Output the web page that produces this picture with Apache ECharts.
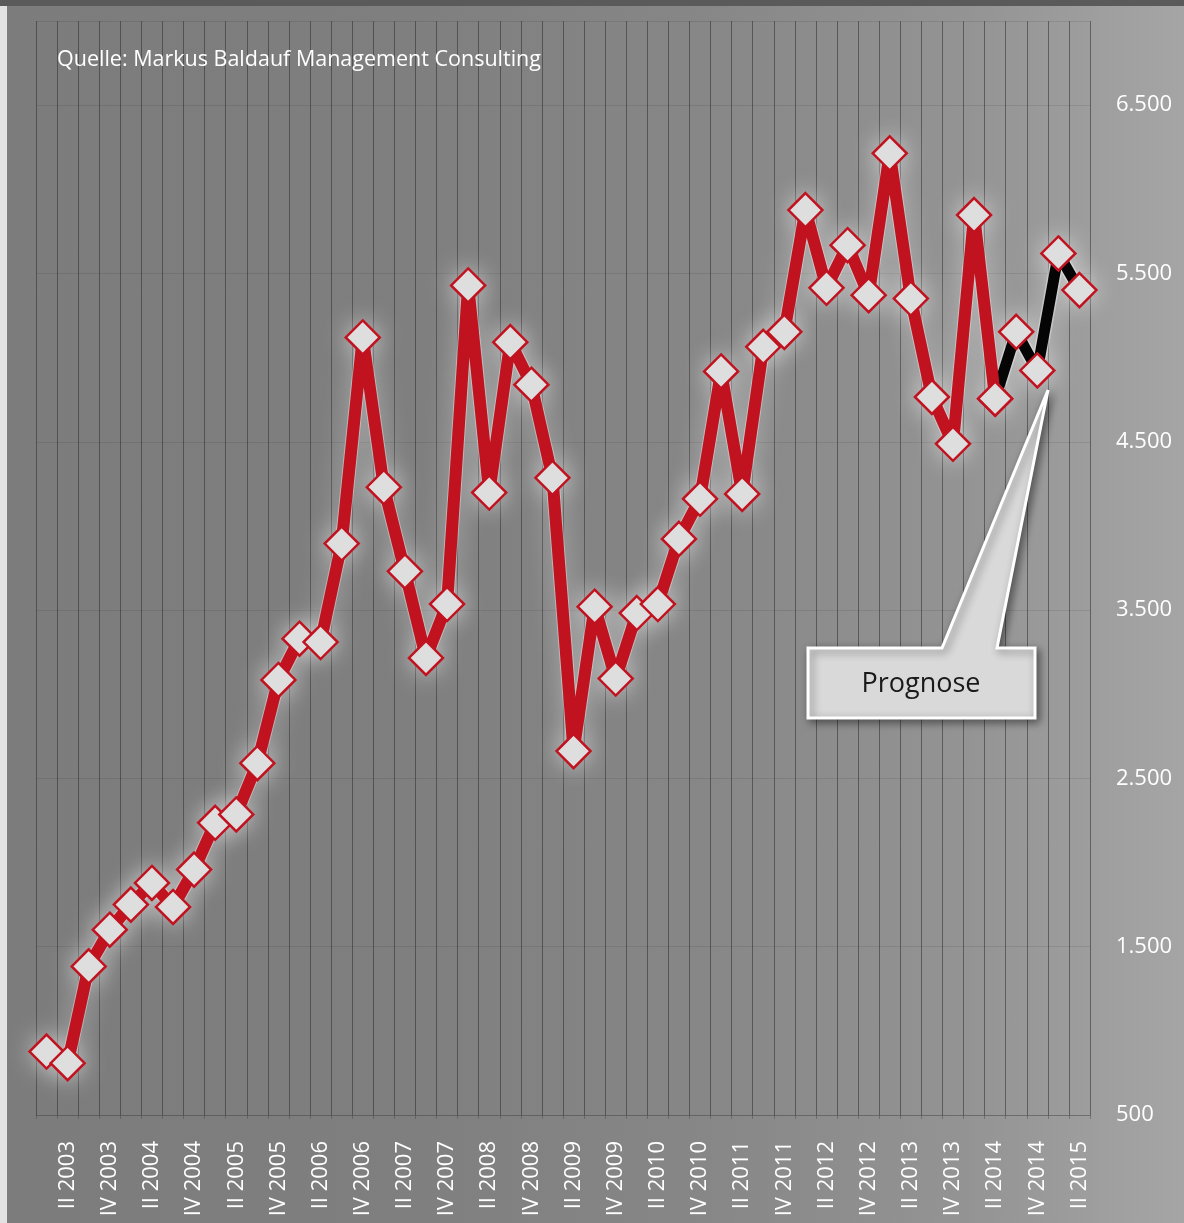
<!DOCTYPE html>
<html>
<head>
<meta charset="utf-8">
<script src="https://cdn.jsdelivr.net/npm/echarts@6/dist/echarts.min.js"></script>
<style>
html,body{margin:0;padding:0;background:#888;}
#c{width:1184px;height:1223px;background:linear-gradient(to right,#7c7c7c 0%,#7f7f7f 35%,#878787 60%,#949494 82%,#a5a5a5 100%);}
</style>
</head>
<body>
<div id="c"></div>
<script>
const quarters = [
  'I 2003','II 2003','III 2003','IV 2003',
  'I 2004','II 2004','III 2004','IV 2004',
  'I 2005','II 2005','III 2005','IV 2005',
  'I 2006','II 2006','III 2006','IV 2006',
  'I 2007','II 2007','III 2007','IV 2007',
  'I 2008','II 2008','III 2008','IV 2008',
  'I 2009','II 2009','III 2009','IV 2009',
  'I 2010','II 2010','III 2010','IV 2010',
  'I 2011','II 2011','III 2011','IV 2011',
  'I 2012','II 2012','III 2012','IV 2012',
  'I 2013','II 2013','III 2013','IV 2013',
  'I 2014','II 2014','III 2014','IV 2014',
  'I 2015','II 2015'
];
// actual values I 2003 .. II 2014
const actualValues = [
  877, 808, 1383, 1601, 1750, 1879, 1736, 1958, 2236, 2286,
  2590, 3085, 3330, 3310, 3895, 5120, 4230, 3730, 3216, 3536,
  5429, 4198, 5092, 4839, 4286, 2662, 3520, 3093, 3482, 3536,
  3923, 4161, 4918, 4190, 5064, 5153, 5877, 5415, 5668, 5371,
  6214, 5351, 4766, 4488, 5847, 4756
];
// forecast values III 2014 .. II 2015
const forecastValues = [5153, 4924, 5619, 5401];

const yMin = 500, yMax = 7000, yStep = 1000;
const sourceText = 'Quelle: Markus Baldauf Management Consulting';
const calloutText = 'Prognose';

const FONT = '"Open Sans", "Noto Sans", sans-serif';
const RED = '#c1121f';

const forecastData = actualValues.map((v, i) => i === actualValues.length - 1 ? v : null).concat(forecastValues);
const allData = actualValues.concat(forecastValues);

function fmt(v) {
  if (v >= yMax) return '';
  return String(v).replace(/\B(?=(\d{3})+(?!\d))/g, '.');
}

const chart = echarts.init(document.getElementById('c'), null, {renderer: 'canvas'});
const markerStyle = {
  color: '#dedede',
  borderColor: RED,
  borderWidth: 2.5
};
chart.setOption({
  backgroundColor: 'transparent',
  animation: false,
  title: {
    text: sourceText,
    left: 52, top: 44,
    textStyle: {color: '#ffffff', fontSize: 21.5, fontWeight: 'normal', fontFamily: FONT}
  },
  grid: {left: 36, right: 94, top: 21, bottom: 108, containLabel: false, outerBoundsMode: 'none'},
  xAxis: {
    type: 'category',
    data: quarters,
    boundaryGap: true,
    axisLine: {show: true, lineStyle: {color: 'rgba(70,70,70,0.45)', width: 1}},
    axisTick: {show: true, interval: 0, length: 4, lineStyle: {color: 'rgba(70,70,70,0.45)'}},
    axisLabel: {
      interval: (i) => i % 2 === 1,
      rotate: 90,
      color: '#ffffff',
      fontSize: 22,
      fontFamily: FONT,
      margin: 26
    },
    splitLine: {show: true, interval: 0, lineStyle: {color: 'rgba(45,45,45,0.55)', width: 1}}
  },
  yAxis: {
    type: 'value',
    position: 'right',
    min: yMin, max: yMax, interval: yStep,
    axisLine: {show: false},
    axisTick: {show: false},
    axisLabel: {color: '#ffffff', fontSize: 22, fontFamily: FONT, margin: 26, formatter: fmt, showMaxLabel: false},
    splitLine: {show: true, lineStyle: {color: 'rgba(0,0,0,0.09)', width: 1}}
  },
  series: [
    {
      // soft white glow behind line and markers
      type: 'line',
      name: 'glow',
      data: allData,
      z: 1,
      silent: true,
      symbol: 'diamond',
      symbolSize: 36,
      showAllSymbol: true,
      lineStyle: {color: 'rgba(255,255,255,0.35)', width: 14, shadowBlur: 26, shadowColor: 'rgba(255,255,255,0.95)'},
      itemStyle: {color: 'rgba(255,255,255,0.6)', shadowBlur: 26, shadowColor: 'rgba(255,255,255,1)'},
      emphasis: {disabled: true},
      tooltip: {show: false}
    },
    {
      type: 'line',
      name: 'Prognose',
      data: forecastData,
      z: 2,
      symbol: 'diamond',
      symbolSize: 34,
      showAllSymbol: true,
      connectNulls: false,
      lineStyle: {color: '#050505', width: 11},
      itemStyle: markerStyle,
      emphasis: {disabled: true}
    },
    {
      type: 'line',
      name: 'Ist',
      data: actualValues,
      z: 3,
      symbol: 'diamond',
      symbolSize: 34,
      showAllSymbol: true,
      lineStyle: {color: RED, width: 12},
      itemStyle: markerStyle,
      emphasis: {disabled: true}
    }
  ],
  graphic: [
    {type: 'rect', z: 200, shape: {x: 0, y: 0, width: 7, height: 1223}, style: {fill: '#e2e2e2'}},
    {type: 'rect', z: 201, shape: {x: 0, y: 0, width: 1184, height: 6}, style: {fill: '#5a5a5a'}},
    {
      type: 'polygon', z: 150,
      shape: {points: [[808, 648], [942, 648], [1048, 390], [997, 648], [1035, 648], [1035, 718], [808, 718]]},
      style: {fill: '#d9d9d9', stroke: '#ffffff', lineWidth: 3, shadowBlur: 8, shadowColor: 'rgba(0,0,0,0.45)', shadowOffsetX: 3, shadowOffsetY: 3}
    },
    {
      type: 'text', z: 151, x: 921, y: 684,
      style: {text: calloutText, fill: '#1a1a1a', fontSize: 27, fontFamily: FONT, align: 'center', verticalAlign: 'middle'}
    }
  ]
});
</script>
</body>
</html>
